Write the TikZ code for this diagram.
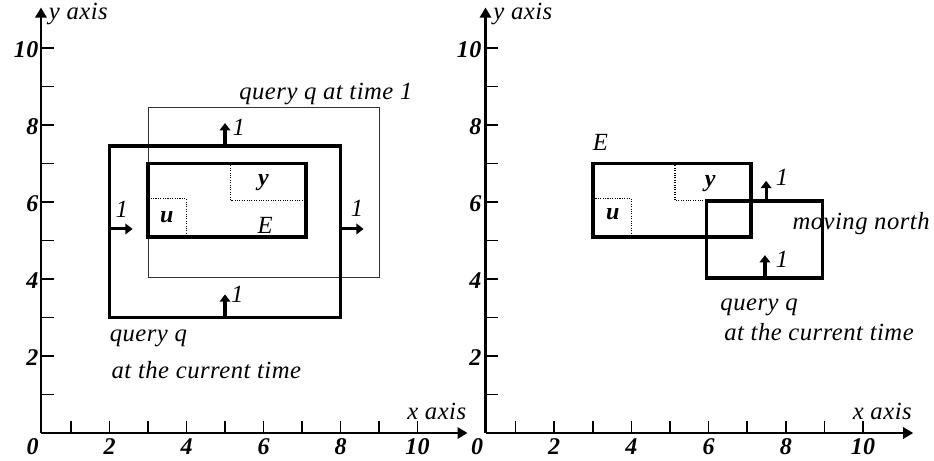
\documentclass[tikz,border=0pt]{standalone}
\usepackage{fontspec}
\setmainfont{Liberation Serif}[LetterSpace=2]
\usetikzlibrary{arrows.meta}
\begin{document}
\begin{tikzpicture}[x=0.75pt,y=-0.75pt,
  axisline/.style={line width=1.6pt,-{Triangle[width=8.5pt,length=7.5pt]}},
  tickmark/.style={line width=1.3pt},
  thickbox/.style={line width=2.7pt},
  thinbox/.style={line width=0.6pt,black!80},
  dotbox/.style={line width=0.8pt,densely dotted},
  movearrow/.style={line width=2.3pt,-{Triangle[width=8pt,length=5.5pt]}},
  lbl/.style={font=\itshape\fontsize{18.5}{22}\selectfont,inner sep=0pt},
  blbl/.style={font=\bfseries\itshape\fontsize{18}{22}\selectfont,inner sep=0pt}]
\useasboundingbox (0,0) rectangle (934,460);

% ---------------- left plot ----------------
\begin{scope}[xshift=24.375pt,yshift=-324.75pt,x=28.875pt,y=28.875pt]
  \coordinate (LO) at (0.22,0);
  \coordinate (LY) at (0.22,11.05);
  \coordinate (LX) at (11.3,0);
  \draw[axisline] (LO) -- (LY);
  \draw[axisline] (LO) -- (LX);
  \foreach \i in {1,...,10} {
    \draw[tickmark] (\i,0) -- (\i,0.3);
    \draw[tickmark] (0.22,\i) -- (0.55,\i);
  }
  \foreach \v in {0,2,4,6,8,10} \node[blbl] (Lxn\v) at (\v,-0.36) {\v};
  \foreach \v in {2,4,6,8,10} \node[blbl,anchor=east] (Lyn\v) at (0.16,\v-0.05) {\v};
  \node[lbl,anchor=west] (Lyax) at (0.42,10.88) {y axis};
  \node[lbl] (Lxax) at (10.5,0.55) {x axis};

  % boxes
  \draw[thinbox] (3,4.03) rectangle (9,8.47);
  \draw[thickbox] (2,3) rectangle (8,7.45);
  \draw[dotbox] (3,5.09) rectangle (4,6.08);
  \draw[dotbox] (5.15,6.05) rectangle (7.1,7);
  \draw[thickbox] (3,5.09) rectangle (7.1,7);
  \node[blbl] (Lu) at (3.49,5.6) {u};
  \node[blbl] (Lv) at (6.0,6.5) {y};
  \node[lbl] (LE) at (6.04,5.39) {E};

  % motion arrows
  \coordinate (Lt0) at (5,7.45);  \coordinate (Lt1) at (5,8.05);
  \coordinate (Lb0) at (5,3);     \coordinate (Lb1) at (5,3.6);
  \coordinate (Ll0) at (2,5.3);   \coordinate (Ll1) at (2.6,5.3);
  \coordinate (Lr0) at (8,5.3);   \coordinate (Lr1) at (8.6,5.3);
  \draw[movearrow] (Lt0) -- (Lt1);
  \draw[movearrow] (Lb0) -- (Lb1);
  \draw[movearrow] (Ll0) -- (Ll1);
  \draw[movearrow] (Lr0) -- (Lr1);
  \node[lbl] (Lt1l) at (5.36,7.95) {1};
  \node[lbl] (Lb1l) at (5.32,3.6) {1};
  \node[lbl] (Ll1l) at (2.32,5.8) {1};
  \node[lbl] (Lr1l) at (8.43,5.83) {1};

  \node[lbl] (Lq1) at (7.62,8.8) {query q at time 1};
  \node[lbl,anchor=west] (Lq2) at (2.0,2.47) {query q};
  \node[lbl,anchor=west] (Lq3) at (2.05,1.64) {at the current time};
\end{scope}

% ---------------- right plot ----------------
\begin{scope}[xshift=357.75pt,yshift=-324.75pt,x=28.95pt,y=28.875pt]
  \coordinate (RO) at (0.22,0);
  \coordinate (RY) at (0.22,11.05);
  \coordinate (RX) at (11.3,0);
  \draw[axisline] (RO) -- (RY);
  \draw[axisline] (RO) -- (RX);
  \foreach \i in {1,...,10} {
    \draw[tickmark] (\i,0) -- (\i,0.3);
    \draw[tickmark] (0.22,\i) -- (0.55,\i);
  }
  \foreach \v in {0,2,4,6,8,10} \node[blbl] (Rxn\v) at (\v,-0.36) {\v};
  \foreach \v in {2,4,6,8,10} \node[blbl,anchor=east] (Ryn\v) at (0.12,\v-0.05) {\v};
  \node[lbl,anchor=west] (Ryax) at (0.42,10.88) {y axis};
  \node[lbl] (Rxax) at (10.5,0.55) {x axis};

  \draw[dotbox] (3,5.09) rectangle (4,6.08);
  \draw[dotbox] (5.13,6.05) rectangle (7.1,7);
  \draw[thickbox] (3,5.09) rectangle (7.1,7);
  \draw[thickbox] (5.95,4.03) rectangle (8.95,6.02);
  \node[blbl] (Ru) at (3.52,5.68) {u};
  \node[blbl] (Rv) at (6.04,6.48) {y};
  \node[lbl] (RE) at (3.2,7.56) {E};

  \coordinate (Rt0) at (7.49,6.02); \coordinate (Rt1) at (7.49,6.55);
  \coordinate (Rb0) at (7.46,4.03); \coordinate (Rb1) at (7.46,4.62);
  \draw[movearrow] (Rt0) -- (Rt1);
  \draw[movearrow] (Rb0) -- (Rb1);
  \node[lbl] (Rt1l) at (7.9,6.65) {1};
  \node[lbl] (Rb1l) at (7.9,4.5) {1};

  \node[lbl] (Rmv) at (9.95,5.43) {moving north};
  \node[lbl,anchor=west] (Rq2) at (6.3,3.27) {query q};
  \node[lbl,anchor=west] (Rq3) at (6.4,2.62) {at the current time};
\end{scope}
\end{tikzpicture}
\end{document}
